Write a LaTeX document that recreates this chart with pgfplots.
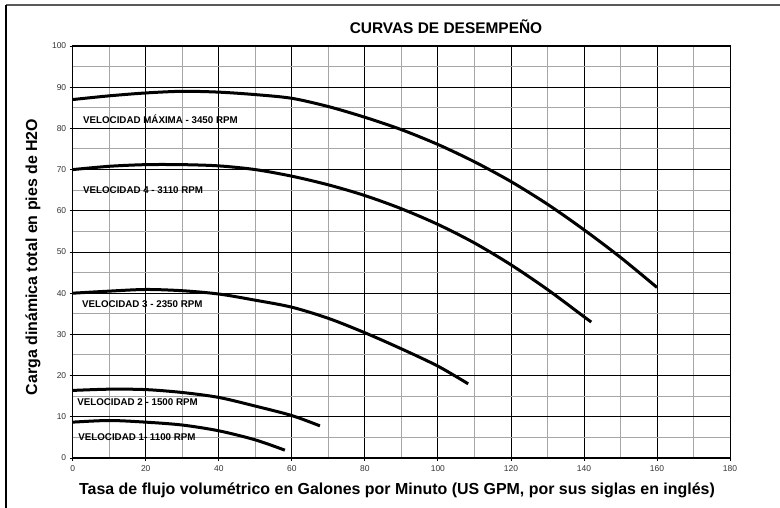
\documentclass[border=0pt]{standalone}
\usepackage{fontspec}
\setmainfont{Liberation Sans}
\usepackage{pgfplots}
\pgfplotsset{compat=1.18}
\begin{document}
\begin{tikzpicture}[x=1bp,y=1bp]
\useasboundingbox (0,0) rectangle (780,508);
\draw[gray!70!black, line width=1.2bp] (6,503) -- (780,503);
\draw[black, line width=1.2bp] (6,503) -- (6,0);
\begin{axis}[
  scale only axis=true,
  width=657.3bp, height=412bp,
  at={(72.7bp,50bp)}, anchor=south west,
  xmin=0, xmax=180, ymin=0, ymax=100,
  xtick={0,20,...,180}, ytick={0,10,...,100},
  minor xtick={10,30,...,170}, minor ytick={5,15,...,95},
  grid=both,
  major grid style={black, line width=0.8bp},
  minor grid style={gray!70, line width=1bp},
  axis line style={black, line width=1bp},
  tick style={black, line width=0.8bp},
  major tick length=3bp, minor tick length=0pt,
  tick align=outside,
  xtick pos=bottom, ytick pos=left,
  /pgf/number format/assume math mode=true,
  ticklabel style={font=\fontsize{8.5}{10}\selectfont, color=black!80},
  xticklabel style={yshift=-1bp},
  clip=true,
]
\addplot[black, line width=3bp, smooth] coordinates {(0,87)(10,87.9)(20,88.6)(30,89)(40,88.8)(50,88.2)(60,87.3)(70,85.3)(80,82.7)(90,79.7)(100,76.1)(110,71.9)(120,67.1)(130,61.6)(140,55.4)(150,48.7)(160,41.4)};
\addplot[black, line width=3bp, smooth] coordinates {(0,70)(10,70.8)(20,71.2)(30,71.2)(40,70.9)(50,70)(60,68.4)(70,66.3)(80,63.7)(90,60.5)(100,56.7)(110,52.2)(120,46.9)(130,40.9)(140,34.3)(142,33.0)};
\addplot[black, line width=3bp, smooth] coordinates {(0,40)(10,40.5)(20,40.9)(30,40.6)(40,39.8)(50,38.3)(60,36.6)(70,33.9)(80,30.4)(90,26.5)(100,22.3)(108.3,18)};
\addplot[black, line width=3bp, smooth] coordinates {(0,16.4)(10,16.7)(20,16.6)(30,15.9)(40,14.7)(50,12.6)(60,10.3)(67.7,7.8)};
\addplot[black, line width=3bp, smooth] coordinates {(0,8.7)(10,9.1)(20,8.7)(30,8)(40,6.6)(50,4.4)(58.1,1.9)};
\begin{scope}[every node/.style={anchor=west, inner sep=0pt, font=\fontsize{9.8}{12}\selectfont\bfseries}]
\node at (axis cs:2.8,82.2) {VELOCIDAD MÁXIMA - 3450 RPM};
\node at (axis cs:2.8,65) {VELOCIDAD 4 - 3110 RPM};
\node at (axis cs:2.5,37.3) {VELOCIDAD 3 - 2350 RPM};
\node at (axis cs:1.2,13.5) {VELOCIDAD 2 - 1500 RPM};
\node at (axis cs:1.5,5) {VELOCIDAD 1- 1100 RPM};
\end{scope}
\end{axis}
\node[font=\fontsize{15.5}{18}\selectfont\bfseries] at (446,481) {CURVAS DE DESEMPEÑO};
\node[font=\fontsize{16}{19}\selectfont\bfseries] at (397,18) {Tasa de flujo volumétrico en Galones por Minuto (US GPM, por sus siglas en inglés)};
\node[font=\fontsize{16}{19}\selectfont\bfseries, rotate=90] at (33,251) {Carga dinámica total en pies de H2O};
\end{tikzpicture}
\end{document}
